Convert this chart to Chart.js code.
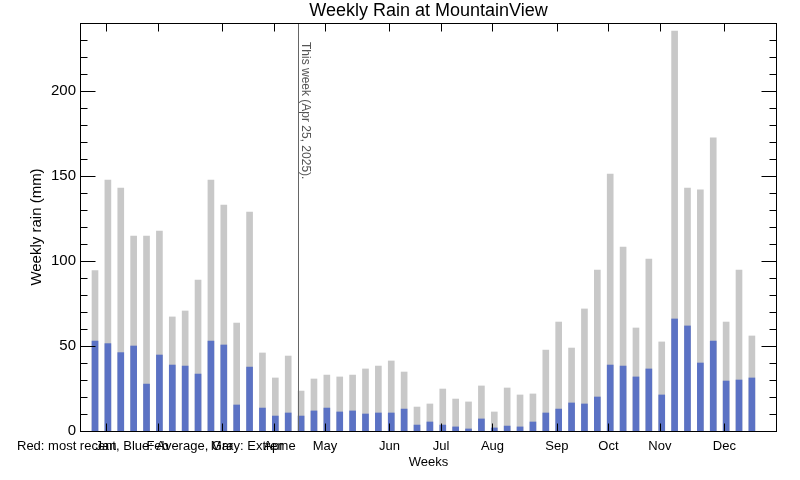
<!DOCTYPE html>
<html>
<head>
<meta charset="utf-8">
<title>Weekly Rain at MountainView</title>
<script src="https://cdn.jsdelivr.net/npm/chart.js@4.4.1/dist/chart.umd.min.js"></script>
<style>
    html, body { margin: 0; padding: 0; background: #fff; }
    canvas { display: block; }
</style>
</head>
<body>
<canvas id="rainChart" width="800" height="480"></canvas>
<script>
// week number of each bar
const weeks = [1, 2, 3, 4, 5, 6, 7, 8, 9, 10, 11, 12, 13, 14, 15, 16, 17, 18, 19, 20, 21, 22, 23, 24, 25, 26,
    27, 28, 29, 30, 31, 32, 33, 34, 35, 36, 37, 38, 39, 40, 41, 42, 43, 44, 45, 46, 47, 48, 49, 50, 51, 52];

// gray: extreme weekly rain (mm)
const extremeRain = [94.3, 147.6, 142.9, 114.7, 114.7, 117.6, 67.1, 70.6, 88.8, 147.6,
    132.9, 63.5, 128.8, 45.9, 31.2, 44.1, 23.5, 30.6, 32.9, 31.8,
    32.9, 36.5, 38.2, 41.2, 34.7, 14.1, 15.9, 24.7, 18.8, 17.1,
    26.5, 11.2, 25.3, 21.2, 21.8, 47.6, 64.1, 48.8, 71.8, 94.7,
    151.2, 108.2, 60.6, 101.2, 52.4, 235.3, 142.9, 141.8, 172.4, 64.1,
    94.7, 55.9];

// blue: average weekly rain (mm)
const averageRain = [52.9, 51.4, 46.1, 50.0, 27.6, 44.7, 38.8, 38.2, 33.5, 52.9,
    50.6, 15.3, 37.6, 13.5, 8.8, 10.6, 8.8, 11.8, 13.5, 11.2,
    11.8, 10.0, 10.6, 10.6, 12.9, 3.5, 5.3, 3.5, 2.4, 1.2,
    7.1, 1.8, 2.9, 2.4, 5.3, 10.6, 12.9, 16.5, 15.9, 20.0,
    38.8, 38.2, 31.8, 36.5, 21.2, 65.9, 61.8, 40.0, 52.9, 29.4,
    30.0, 31.2];

const monthLabels = ['Jan', 'Feb', 'Mar', 'Apr', 'May', 'Jun', 'Jul', 'Aug', 'Sep', 'Oct', 'Nov', 'Dec'];
const monthTickWeeks = [1.86, 5.86, 10.86, 14.86, 18.86, 23.86, 27.86, 31.86, 36.86, 40.86, 44.86, 49.86];

const yMajorTicks = [0, 50, 100, 150, 200];
const yMinorTicks = [10, 20, 30, 40, 60, 70, 80, 90, 110, 120, 130, 140, 160, 170, 180, 190, 210, 220, 230];

const thisWeek = 16.86;
const thisWeekLabel = 'This week (Apr 25, 2025).';

document.addEventListener('DOMContentLoaded', function() {
    const ctx = document.getElementById('rainChart').getContext('2d');

    const toPoints = (values) => values.map((v, i) => ({ x: weeks[i], y: v }));

    const frameAndLabels = {
        id: 'frameAndLabels',
        afterDraw: (chart) => {
            const c = chart.ctx;
            const area = chart.chartArea;
            const xs = chart.scales.x;
            const ys = chart.scales.y;
            const L = 80.5, R = 776.5, T = 23.5, B = 431.5;
            c.save();

            // marker for current week
            const lx = Math.round(xs.getPixelForValue(thisWeek)) - 0.5;
            c.strokeStyle = '#666';
            c.lineWidth = 1;
            c.beginPath();
            c.moveTo(lx, T);
            c.lineTo(lx, B);
            c.stroke();

            c.save();
            c.translate(lx + 3.5, 42);
            c.rotate(Math.PI / 2);
            c.fillStyle = '#555';
            c.font = '12px "Liberation Sans"';
            c.textAlign = 'left';
            c.textBaseline = 'alphabetic';
            c.fillText(thisWeekLabel, 0, 0);
            c.restore();

            // frame
            c.strokeStyle = '#000';
            c.strokeRect(L, T, R - L, B - T);

            // x ticks top and bottom
            c.beginPath();
            monthTickWeeks.forEach(w => {
                const px = Math.round(xs.getPixelForValue(w)) + 0.5;
                c.moveTo(px, T);
                c.lineTo(px, T + 8);
                c.moveTo(px, B);
                c.lineTo(px, B - 8);
            });
            // y ticks left and right
            yMajorTicks.forEach(v => {
                const py = Math.round(ys.getPixelForValue(v)) + 0.5;
                c.moveTo(L, py);
                c.lineTo(L + 15, py);
                c.moveTo(R, py);
                c.lineTo(R - 15, py);
            });
            yMinorTicks.forEach(v => {
                const py = Math.round(ys.getPixelForValue(v)) + 0.5;
                c.moveTo(L, py);
                c.lineTo(L + 7, py);
                c.moveTo(R, py);
                c.lineTo(R - 7, py);
            });
            c.stroke();

            c.fillStyle = '#000';

            // y tick labels
            c.font = '15px "Liberation Sans"';
            c.textAlign = 'right';
            c.textBaseline = 'middle';
            yMajorTicks.forEach(v => {
                c.fillText(String(v), 76, ys.getPixelForValue(v));
            });

            // month labels
            c.font = '13px "Liberation Sans"';
            c.textAlign = 'center';
            c.textBaseline = 'alphabetic';
            monthTickWeeks.forEach((w, i) => {
                c.fillText(monthLabels[i], xs.getPixelForValue(w), 450);
            });

            // note in lower left
            c.textAlign = 'left';
            c.fillText('Red: most recent, Blue: Average, Gray: Extreme', 17, 450);

            // x axis title
            c.textAlign = 'center';
            c.fillText('Weeks', (area.left + area.right) / 2, 466);

            // title
            c.font = '18px "Liberation Sans"';
            c.fillText('Weekly Rain at MountainView', (area.left + area.right) / 2, 16);

            // y axis title
            c.save();
            c.translate(41, (area.top + area.bottom) / 2);
            c.rotate(-Math.PI / 2);
            c.font = '15px "Liberation Sans"';
            c.textAlign = 'center';
            c.fillText('Weekly rain (mm)', 0, 0);
            c.restore();

            c.restore();
        }
    };

    new Chart(ctx, {
        type: 'bar',
        data: {
            datasets: [
                {
                    label: 'Average',
                    data: toPoints(averageRain),
                    backgroundColor: '#5b72c4',
                    barThickness: 6,
                    grouped: false,
                    order: 0
                },
                {
                    label: 'Extreme',
                    data: toPoints(extremeRain),
                    backgroundColor: '#c8c8c8',
                    barThickness: 6,
                    grouped: false,
                    order: 1
                }
            ]
        },
        options: {
            responsive: false,
            animation: false,
            devicePixelRatio: 1,
            layout: {
                padding: { left: 80, right: 23, top: 23, bottom: 49 }
            },
            scales: {
                x: {
                    type: 'linear',
                    display: false,
                    offset: false,
                    min: -0.165,
                    max: 53.95
                },
                y: {
                    type: 'linear',
                    display: false,
                    min: 0,
                    max: 240
                }
            },
            plugins: {
                legend: { display: false },
                tooltip: { enabled: false },
                title: { display: false }
            }
        },
        plugins: [frameAndLabels]
    });
});
</script>
</body>
</html>
